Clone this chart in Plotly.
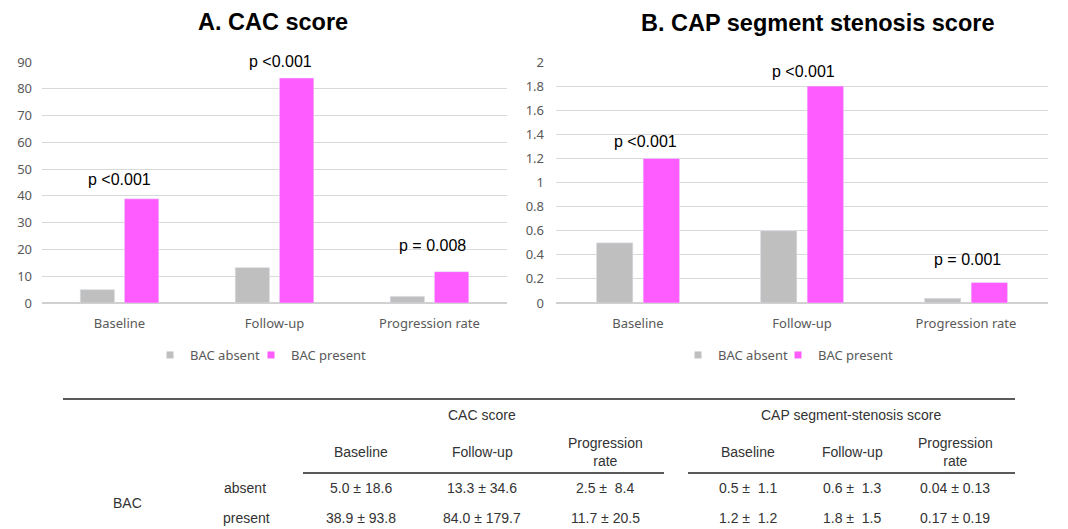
import plotly.graph_objects as go

categories = ["Baseline", "Follow-up", "Progression rate"]
cac_absent = [5.0, 13.3, 2.5]
cac_present = [38.9, 84.0, 11.7]
cap_absent = [0.5, 0.6, 0.04]
cap_present = [1.2, 1.8, 0.17]
cac_pvals = ["p <0.001", "p <0.001", "p = 0.008"]
cap_pvals = ["p <0.001", "p <0.001", "p = 0.001"]
cac_sd_absent = [18.6, 34.6, 8.4]
cac_sd_present = [93.8, 179.7, 20.5]
cap_sd_absent = [1.1, 1.3, 0.13]
cap_sd_present = [1.2, 1.5, 0.19]
series_names = ["BAC absent", "BAC present"]

W, H = 1068, 529
GRAY = "#bfbfbf"
PINK = "#ff5cff"
TICK = "#595959"
AX_FONT = "Noto Sans, DejaVu Sans"
ARIAL = "Liberation Sans, Arial"

def px(x):
    return x / W

def py(y):
    return 1 - y / H

fig = go.Figure()
fig.add_bar(x=categories, y=cac_absent, name=series_names[0], marker_color=GRAY,
            xaxis="x", yaxis="y", showlegend=False)
fig.add_bar(x=categories, y=cac_present, name=series_names[1], marker_color=PINK,
            xaxis="x", yaxis="y", showlegend=False)
fig.add_bar(x=categories, y=cap_absent, name=series_names[0], marker_color=GRAY,
            xaxis="x2", yaxis="y2", showlegend=False)
fig.add_bar(x=categories, y=cap_present, name=series_names[1], marker_color=PINK,
            xaxis="x2", yaxis="y2", showlegend=False)
# legend entries (square markers like the original), one legend box per entry
legend_ids = [("legend", "x", "y", 0), ("legend2", "x", "y", 1),
              ("legend3", "x2", "y2", 0), ("legend4", "x2", "y2", 1)]
colors = [GRAY, PINK]
for leg, xa, ya, k in legend_ids:
    fig.add_scatter(x=[None], y=[None], mode="markers", name=series_names[k], xaxis=xa, yaxis=ya,
                    marker=dict(symbol="square", size=7, color=colors[k]), legend=leg)

ydom = [py(303), py(62)]
axis_common = dict(showline=False, ticks="", tickfont=dict(family=AX_FONT, size=13, color=TICK))
legend_common = dict(orientation="h", xanchor="left", yanchor="middle", y=py(355),
                     font=dict(family=AX_FONT, size=13, color=TICK), itemwidth=30,
                     bgcolor="rgba(0,0,0,0)")
legend_x = [150, 251, 678, 778]
fig.update_layout(
    width=W, height=H, margin=dict(l=0, r=0, t=0, b=0, autoexpand=False),
    paper_bgcolor="white", plot_bgcolor="white",
    barmode="group", bargap=0.43, bargroupgap=0.22,
    xaxis=dict(domain=[px(42), px(507)], anchor="y", ticklabelstandoff=11, **axis_common),
    yaxis=dict(domain=ydom, anchor="x", range=[0, 90], dtick=10, gridcolor="#d9d9d9",
               zeroline=True, zerolinecolor="#d0d0d0", ticklabelstandoff=9, **axis_common),
    xaxis2=dict(domain=[px(556), px(1048)], anchor="y2", ticklabelstandoff=11, **axis_common),
    yaxis2=dict(domain=ydom, anchor="x2", range=[0, 2], dtick=0.2, gridcolor="#d9d9d9",
                zeroline=True, zerolinecolor="#d0d0d0", ticklabelstandoff=11, **axis_common),
    legend=dict(x=px(legend_x[0]), **legend_common),
    legend2=dict(x=px(legend_x[1]), **legend_common),
    legend3=dict(x=px(legend_x[2]), **legend_common),
    legend4=dict(x=px(legend_x[3]), **legend_common),
    showlegend=True,
)
fig.update_yaxes(tickformat="~g")

annotations = []
# titles
annotations.append(dict(text="<b>A. CAC score</b>", x=px(273), y=py(22), xref="paper", yref="paper",
                        xanchor="center", yanchor="middle",
                        showarrow=False, font=dict(family=ARIAL, size=23.5, color="black")))
annotations.append(dict(text="<b>B. CAP segment stenosis score</b>", x=px(818), y=py(23), xref="paper",
                        yref="paper", xanchor="center", yanchor="middle",
                        showarrow=False, font=dict(family=ARIAL, size=23.5, color="black")))
# p values
cac_xshift = [0, 6, 3]
cac_yshift = [9, 6, 16]
cap_xshift = [7, 1, 1]
cap_yshift = [6, 4, 13]
for i, c in enumerate(categories):
    annotations.append(dict(text=cac_pvals[i], x=c, y=cac_present[i], xref="x", yref="y",
                            xshift=cac_xshift[i], yshift=cac_yshift[i], yanchor="bottom",
                            showarrow=False, font=dict(family=ARIAL, size=16, color="black")))
    annotations.append(dict(text=cap_pvals[i], x=c, y=cap_present[i], xref="x2", yref="y2",
                            xshift=cap_xshift[i], yshift=cap_yshift[i], yanchor="bottom",
                            showarrow=False, font=dict(family=ARIAL, size=16, color="black")))

# table
tfont = dict(family=ARIAL, size=14, color="#333333")
def tlabel(text, x, y, xanchor="center"):
    annotations.append(dict(text=text, x=px(x), y=py(y), xref="paper", yref="paper",
                            xanchor=xanchor, yanchor="middle", showarrow=False, font=tfont))

tlabel("CAC score", 482, 415)
tlabel("CAP segment-stenosis score", 851, 415)
col_x = [361, 482, 605, 748, 852, 955]
sub = ["Baseline", "Follow-up", "Progression<br>rate", "Baseline", "Follow-up", "Progression<br>rate"]
for x, s in zip(col_x, sub):
    tlabel(s, x, 452)
tlabel("BAC", 127, 503)
tlabel("absent", 245, 488)
tlabel("present", 246, 518)

NB = "\u00a0"
def fmt(m, s, d):
    sd = f"{s:.{d}f}"
    pad = NB if len(sd) < 4 else ""
    return f"{m:.{d}f}{NB}±{NB}{pad}{sd}"

row_abs = [fmt(cac_absent[i], cac_sd_absent[i], 1) for i in range(3)] + \
          [fmt(cap_absent[0], cap_sd_absent[0], 1), fmt(cap_absent[1], cap_sd_absent[1], 1),
           fmt(cap_absent[2], cap_sd_absent[2], 2)]
row_pre = [fmt(cac_present[i], cac_sd_present[i], 1) for i in range(3)] + \
          [fmt(cap_present[0], cap_sd_present[0], 1), fmt(cap_present[1], cap_sd_present[1], 1),
           fmt(cap_present[2], cap_sd_present[2], 2)]
for x, a, p in zip(col_x, row_abs, row_pre):
    tlabel(a, x, 488)
    tlabel(p, x, 518)

fig.update_layout(annotations=annotations)

shapes = [
    dict(type="line", xref="paper", yref="paper", x0=px(63), x1=px(1015), y0=py(399), y1=py(399),
         line=dict(color="#5a5a5a", width=2)),
    dict(type="line", xref="paper", yref="paper", x0=px(303), x1=px(664), y0=py(473), y1=py(473),
         line=dict(color="#5a5a5a", width=2)),
    dict(type="line", xref="paper", yref="paper", x0=px(688), x1=px(1015), y0=py(473), y1=py(473),
         line=dict(color="#5a5a5a", width=2)),
]
fig.update_layout(shapes=shapes)

fig.write_html("out.html", config={"displayModeBar": False},
               post_script="document.body.style.margin='0';document.body.style.overflow='hidden';")
